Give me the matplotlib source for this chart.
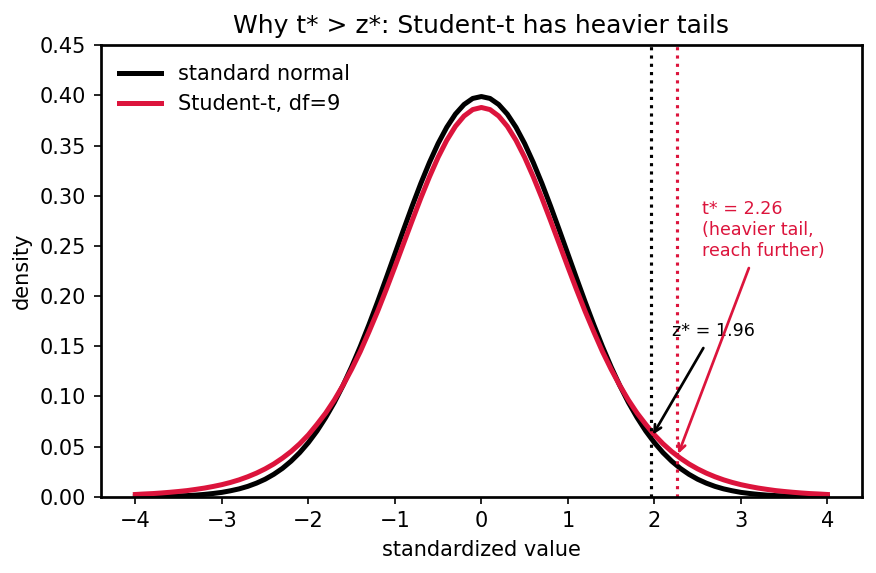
import matplotlib
matplotlib.use("Agg")
import matplotlib.pyplot as plt

# data: densities at x = 0.0, 0.1, ..., 4.0 (curves are symmetric)
x_half = [round(0.1 * i, 1) for i in range(41)]
normal_half = [0.3989, 0.3970, 0.3910, 0.3814, 0.3683, 0.3521, 0.3332, 0.3123, 0.2897, 0.2661,
               0.2420, 0.2179, 0.1942, 0.1714, 0.1497, 0.1295, 0.1109, 0.0940, 0.0790, 0.0656,
               0.0540, 0.0440, 0.0355, 0.0283, 0.0224, 0.0175, 0.0136, 0.0104, 0.0079, 0.0060,
               0.0044, 0.0033, 0.0024, 0.0017, 0.0012, 0.0009, 0.0006, 0.0004, 0.0003, 0.0002,
               0.0001]
t_half = [0.3880, 0.3859, 0.3795, 0.3692, 0.3553, 0.3384, 0.3189, 0.2977, 0.2752, 0.2522,
          0.2291, 0.2065, 0.1847, 0.1643, 0.1447, 0.1271, 0.1110, 0.0964, 0.0834, 0.0722,
          0.0617, 0.0528, 0.0451, 0.0385, 0.0327, 0.0278, 0.0236, 0.0200, 0.0169, 0.0143,
          0.0121, 0.0103, 0.0087, 0.0074, 0.0062, 0.0053, 0.0045, 0.0038, 0.0032, 0.0028,
          0.0023]

x_vals = [-v for v in x_half[:0:-1]] + x_half
normal_pdf = normal_half[:0:-1] + normal_half
t_pdf = t_half[:0:-1] + t_half

z_star = 1.96
t_star = 2.26
z_star_density = 0.0584
t_star_density = 0.0390

RED = "#DC143C"

plt.rcParams["axes.linewidth"] = 1.3

fig, ax = plt.subplots(figsize=(5.84, 3.82), dpi=150)
fig.subplots_adjust(left=0.115, right=0.984, top=0.921, bottom=0.133)

ax.plot(x_vals, normal_pdf, color="black", linewidth=2.4, label="standard normal")
ax.plot(x_vals, t_pdf, color=RED, linewidth=2.4, label="Student-t, df=9")

ax.axvline(z_star, color="black", linestyle=":", linewidth=1.5)
ax.axvline(t_star, color=RED, linestyle=":", linewidth=1.5)

ax.annotate("z* = 1.96", xy=(z_star, z_star_density), xytext=(2.2, 0.16),
            fontsize=8.4, color="black",
            arrowprops=dict(arrowstyle="->", color="black", lw=1.3))
ax.annotate("t* = 2.26\n(heavier tail,\nreach further)", xy=(t_star, t_star_density),
            xytext=(2.55, 0.24), fontsize=8.4, color=RED,
            arrowprops=dict(arrowstyle="->", color=RED, lw=1.3))

ax.set_xlim(-4.4, 4.4)
ax.set_ylim(0, 0.45)
ax.set_xlabel("standardized value")
ax.set_ylabel("density")
ax.set_title("Why t* > z*: Student-t has heavier tails", fontsize=12)
ax.legend(loc="upper left", frameon=False, fontsize=10)

plt.savefig("out.png", dpi=150)
